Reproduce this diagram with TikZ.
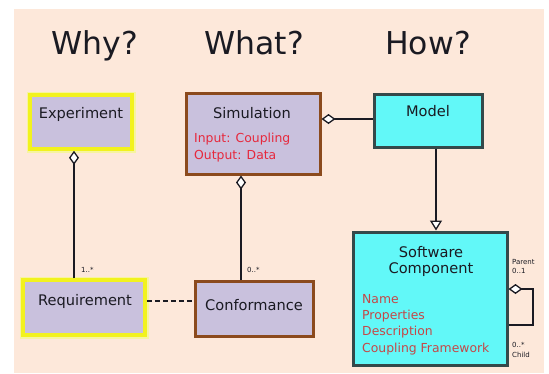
\documentclass[tikz,border=0pt]{standalone}
\usepackage{fontspec}
\setmainfont{DejaVu Sans}
\usetikzlibrary{arrows.meta}
\definecolor{peach}{HTML}{FDE8DA}
\definecolor{lavender}{HTML}{C9C1DD}
\definecolor{umlyellow}{HTML}{F2F21E}
\definecolor{yglow}{HTML}{F6F4A0}
\definecolor{umlbrown}{HTML}{8B4A1D}
\definecolor{umlcyan}{HTML}{62F8F8}
\definecolor{slate}{HTML}{34494A}
\definecolor{attrred}{HTML}{E6283C}
\definecolor{listred}{HTML}{C44848}
\definecolor{ink}{HTML}{1A1A22}
\tikzset{
  yellowbox/.style={rectangle, fill=lavender, draw=umlyellow, line width=3.5pt,
    preaction={draw=yglow, line width=7pt}, inner sep=0pt},
  brownbox/.style={rectangle, fill=lavender, draw=umlbrown, line width=3pt, inner sep=0pt},
  cyanbox/.style={rectangle, fill=umlcyan, draw=slate, line width=3pt, inner sep=0pt},
  heading/.style={anchor=base, inner sep=0pt, font=\fontsize{31.5}{36}\selectfont, text=ink},
  classname/.style={anchor=base, inner sep=0pt, font=\fontsize{14.6}{16}\selectfont, text=ink},
  attr/.style={anchor=base west, inner sep=0pt, font=\fontsize{12.4}{14}\selectfont, text=attrred},
  listattr/.style={anchor=base west, inner sep=0pt, font=\fontsize{12.4}{14}\selectfont, text=listred},
  mult/.style={anchor=base west, inner sep=0pt, font=\fontsize{7}{8}\selectfont, text=ink},
  link/.style={line width=1.7pt, draw=ink},
  agg/.style={link, -{Diamond[fill=white, length=14pt, width=10pt, line width=1.3pt]}},
  gen/.style={link, -{Triangle[fill=white, length=10pt, width=12pt, line width=1.3pt]}},
  trace/.style={line width=2pt, draw=ink, dash pattern=on 5pt off 3pt}
}
\begin{document}
\begin{tikzpicture}[x=1pt, y=-1pt]
\useasboundingbox (0,0) rectangle (549,373);
\fill[white] (0,0) rectangle (549,373);
\fill[peach] (14,9) rectangle (544,373);

% column headings
\node[heading] (why) at (95,54) {Why?};
\node[heading] (what) at (254,54) {What?};
\node[heading] (how) at (428,54) {How?};

% classes
\node[yellowbox, minimum width=102pt, minimum height=54pt] (exp) at (81,122) {};
\node[classname] (expT) at (81,118) {Experiment};

\node[yellowbox, minimum width=122pt, minimum height=55pt] (req) at (84,307.5) {};
\node[classname] (reqT) at (85,305) {Requirement};

\node[brownbox, minimum width=134pt, minimum height=81pt] (sim) at (253,133.5) {};
\node[classname] (simT) at (252,118) {Simulation};
\node[attr] (simIn) at (194,142) {Input: Coupling};
\node[attr] (simOut) at (194,159) {Output: Data};

\node[brownbox, minimum width=118pt, minimum height=55pt] (conf) at (254,308.5) {};
\node[classname] (confT) at (254,310) {Conformance};

\node[cyanbox, minimum width=108pt, minimum height=53pt] (model) at (428,120.5) {};
\node[classname] (modelT) at (428,116) {Model};

\node[cyanbox, minimum width=154pt, minimum height=133pt] (sc) at (430,298.5) {};
\node[classname] (scT1) at (431,257) {Software};
\node[classname] (scT2) at (431,273) {Component};
\node[listattr] (scA) at (362,303) {Name};
\node[listattr] (scB) at (362,319) {Properties};
\node[listattr] (scC) at (362,335) {Description};
\node[listattr] (scD) at (362,352) {Coupling Framework};

% connectors
\coordinate (xe) at (74,0);
\coordinate (xs) at (241,0);
\coordinate (xm) at (436,0);
\coordinate (ys) at (0,119);
\coordinate (yd) at (0,301);

\draw[agg] (req.north -| xe) -- (exp.south -| xe);
\node[mult] (m1) at (81,272) {1..*};

\draw[agg] (conf.north -| xs) -- (sim.south -| xs);
\node[mult] (m2) at (247,272) {0..*};

\draw[agg] (model.west |- ys) -- (sim.east |- ys);

\draw[gen] (model.south -| xm) -- (sc.north -| xm);

\draw[trace] (req.east |- yd) -- (conf.west |- yd);

% recursive parent/child aggregation
\coordinate (loopA) at (533,289);
\coordinate (loopB) at (533,325);
\draw[agg] (sc.east |- loopB) -- (loopB) -- (loopA) -- (sc.east |- loopA);
\node[mult] (mp1) at (512,264) {Parent};
\node[mult] (mp2) at (512,273) {0..1};
\node[mult] (mc1) at (512,347) {0..*};
\node[mult] (mc2) at (512,357) {Child};
\end{tikzpicture}
\end{document}
